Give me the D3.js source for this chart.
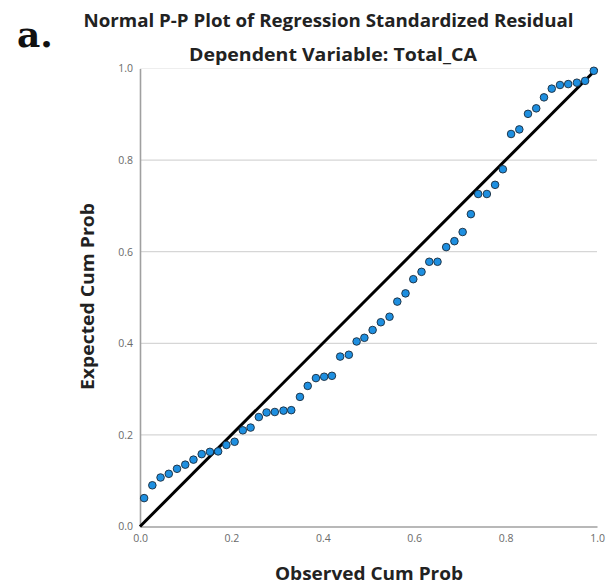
<!DOCTYPE html>
<html>
<head>
<meta charset="utf-8">
<script src="https://cdn.jsdelivr.net/npm/d3@7"></script>
<style>
  html, body { margin: 0; padding: 0; background: #fff; }
  svg { display: block; }
</style>
</head>
<body>
<svg id="chart" width="609" height="588"></svg>
<script>
// Observed cumulative probability (x)
const observedCumProb = [
  0.009, 0.027, 0.045, 0.063, 0.081, 0.099, 0.117, 0.135, 0.153, 0.171,
  0.189, 0.207, 0.225, 0.242, 0.260, 0.277, 0.295, 0.314, 0.331, 0.350,
  0.367, 0.385, 0.403, 0.420, 0.438, 0.457, 0.474, 0.491, 0.509, 0.527,
  0.546, 0.563, 0.581, 0.598, 0.616, 0.633, 0.651, 0.670, 0.688, 0.706,
  0.724, 0.740, 0.759, 0.777, 0.794, 0.812, 0.830, 0.849, 0.867, 0.884,
  0.901, 0.919, 0.937, 0.956, 0.974, 0.993
];
// Expected cumulative probability (y)
const expectedCumProb = [
  0.062, 0.090, 0.107, 0.115, 0.126, 0.135, 0.146, 0.158, 0.163, 0.164,
  0.178, 0.185, 0.210, 0.216, 0.239, 0.249, 0.250, 0.253, 0.254, 0.283,
  0.307, 0.324, 0.327, 0.329, 0.371, 0.375, 0.404, 0.412, 0.429, 0.446,
  0.458, 0.491, 0.509, 0.540, 0.556, 0.578, 0.578, 0.610, 0.623, 0.643,
  0.682, 0.726, 0.726, 0.746, 0.780, 0.857, 0.867, 0.901, 0.913, 0.937,
  0.956, 0.964, 0.966, 0.969, 0.973, 0.995
];
const tickValues = [0.0, 0.2, 0.4, 0.6, 0.8, 1.0];
const gridValues = [0.2, 0.4, 0.6, 0.8, 1.0];
const diagonal = [0, 1];
const panelLabel = "a.";
const titleLines = ["Normal P-P Plot of Regression Standardized Residual", "Dependent Variable: Total_CA"];
const xTitle = "Observed Cum Prob";
const yTitle = "Expected Cum Prob";

const points = observedCumProb.map((x, i) => ({ x, y: expectedCumProb[i] }));

const svg = d3.select("#chart");
const M = { left: 140, right: 597, top: 68.5, bottom: 526.5 };

const x = d3.scaleLinear().domain([0, 1]).range([M.left, M.right]);
const y = d3.scaleLinear().domain([0, 1]).range([M.bottom, M.top]);

const sans = "'Open Sans', 'DejaVu Sans', sans-serif";

// gridlines
svg.append("g").selectAll("line").data(gridValues).join("line")
  .attr("x1", M.left).attr("x2", M.right)
  .attr("y1", d => y(d)).attr("y2", d => y(d))
  .attr("stroke", d => d === 1 ? "#eeeeee" : "#d6d6d6")
  .attr("stroke-width", 1.2);

// axes
const xAxis = d3.axisBottom(x).tickValues(tickValues).tickFormat(d3.format(".1f")).tickSize(0).tickPadding(8);
const yAxis = d3.axisLeft(y).tickValues(tickValues).tickFormat(d3.format(".1f")).tickSize(0).tickPadding(7);

const gx = svg.append("g").attr("transform", `translate(0,${M.bottom})`).call(xAxis);
const gy = svg.append("g").attr("transform", `translate(${M.left},0)`).call(yAxis);
[gx, gy].forEach(g => {
  g.select(".domain").attr("stroke", "#a0a0a0").attr("stroke-width", 1.6);
  g.selectAll("text").attr("font-family", sans).attr("font-size", 10.5).attr("fill", "#6a6a6a");
});

// diagonal reference line
svg.append("line")
  .attr("x1", x(diagonal[0])).attr("y1", y(diagonal[0]))
  .attr("x2", x(diagonal[1])).attr("y2", y(diagonal[1]))
  .attr("stroke", "#000").attr("stroke-width", 3);

// points
svg.append("g").selectAll("circle").data(points).join("circle")
  .attr("cx", d => x(d.x)).attr("cy", d => y(d.y)).attr("r", 3.8)
  .attr("fill", "#1e8fe0").attr("stroke", "#1a2a3a").attr("stroke-width", 0.9);

// titles
function label(txt, len, size) {
  const t = svg.append("text").text(txt)
    .attr("text-anchor", "middle")
    .attr("font-family", sans).attr("font-weight", "bold").attr("font-size", size)
    .attr("fill", "#222");
  if (len) t.attr("textLength", len).attr("lengthAdjust", "spacingAndGlyphs");
  return t;
}
label(titleLines[0], 490, 17.5).attr("x", 328.5).attr("y", 27);
label(titleLines[1], 288, 17.5).attr("x", 333).attr("y", 61);
label(xTitle, 188, 18.5).attr("x", 369).attr("y", 580);
label(yTitle, 187, 18.5).attr("transform", `translate(94,296.5) rotate(-90)`);

svg.append("text").text(panelLabel)
  .attr("x", 17).attr("y", 47)
  .attr("font-family", "'DejaVu Serif', serif").attr("font-weight", "bold").attr("font-size", 36)
  .attr("fill", "#111");
</script>
</body>
</html>
